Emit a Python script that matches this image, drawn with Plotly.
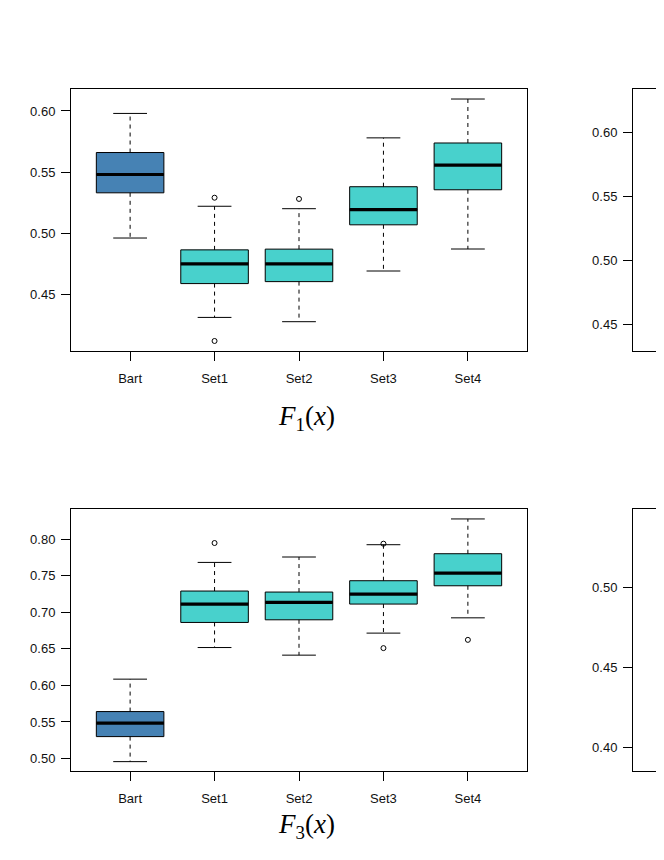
import plotly.graph_objects as go

categories = ["Bart", "Set1", "Set2", "Set3", "Set4"]

# F1(x)
f1_lower = [0.496, 0.431, 0.4275, 0.469, 0.487]
f1_q1 = [0.533, 0.4587, 0.4603, 0.5068, 0.5355]
f1_median = [0.548, 0.4748, 0.4748, 0.5193, 0.5557]
f1_q3 = [0.566, 0.4863, 0.4869, 0.538, 0.5738]
f1_upper = [0.598, 0.522, 0.520, 0.578, 0.6098]
f1_out_cat = ["Set1", "Set1", "Set2"]
f1_out_val = [0.529, 0.4117, 0.528]

# F3(x)
f3_lower = [0.4958, 0.6517, 0.6413, 0.6714, 0.6923]
f3_q1 = [0.530, 0.686, 0.6896, 0.7111, 0.7361]
f3_median = [0.5483, 0.7111, 0.7133, 0.7248, 0.7535]
f3_q3 = [0.5642, 0.7289, 0.7275, 0.743, 0.7799]
f3_upper = [0.6085, 0.768, 0.7754, 0.7922, 0.8274]
f3_out_cat = ["Set1", "Set3", "Set3", "Set4"]
f3_out_val = [0.7945, 0.7936, 0.6509, 0.6622]

# F2(x), F4(x): only the Bart box is visible (panels are cut off)
f2_cat = ["Bart"]
f2_q1 = [0.534]
f2_median = [0.550]
f2_q3 = [0.568]
f4_cat = ["Bart"]
f4_q1 = [0.475]
f4_median = [0.494]
f4_q3 = [0.505]

colors = {"Bart": "#4682B4"}
other_color = "#48D1CC"

PAGE_W, PAGE_H = 664, 860
OFF = 8  # default body margin of the html page
W, H = PAGE_W - OFF, PAGE_H - 2 * OFF
BOXW = 0.8
CAPW = 0.4
XR = [0.3, 5.7]
LEFT_PX = (71, 527)
RIGHT_PX0 = 633
TOP_PX = (89, 351)
BOT_PX = (509, 771)
px_per_unit = (LEFT_PX[1] - LEFT_PX[0]) / (XR[1] - XR[0])

fig = go.Figure()


def pos(cat):
    return categories.index(cat) + 1


def add_panel(xa, ya, cats, q1, med, q3, lower=None, upper=None, out_cat=None, out_val=None,
              polygon=False):
    for i, c in enumerate(cats):
        x = pos(c)
        if polygon:
            fig.add_trace(go.Scatter(
                x=[x - BOXW / 2, x + BOXW / 2, x + BOXW / 2, x - BOXW / 2, x - BOXW / 2],
                y=[q1[i], q1[i], q3[i], q3[i], q1[i]],
                mode="lines", fill="toself", fillcolor=colors.get(c, other_color),
                line=dict(color="black", width=1),
                xaxis=xa, yaxis=ya, showlegend=False, hoverinfo="skip"))
        else:
            fig.add_trace(go.Box(
                x=[x], q1=[q1[i]], median=[med[i]], q3=[q3[i]],
                lowerfence=[q1[i]], upperfence=[q3[i]],
                width=BOXW, whiskerwidth=0, boxpoints=False,
                fillcolor=colors.get(c, other_color),
                line=dict(color="black", width=1),
                xaxis=xa, yaxis=ya, showlegend=False, hoverinfo="skip"))
    mx, my = [], []
    for i, c in enumerate(cats):
        x = pos(c)
        mx += [x - BOXW / 2, x + BOXW / 2, None]
        my += [med[i], med[i], None]
    fig.add_trace(go.Scatter(x=mx, y=my, mode="lines", line=dict(color="black", width=3.2),
                             xaxis=xa, yaxis=ya, showlegend=False, hoverinfo="skip"))
    if lower is not None:
        wx, wy, cx, cy = [], [], [], []
        for i, c in enumerate(cats):
            x = pos(c)
            wx += [x, x, None, x, x, None]
            wy += [q3[i], upper[i], None, q1[i], lower[i], None]
            cx += [x - CAPW / 2, x + CAPW / 2, None, x - CAPW / 2, x + CAPW / 2, None]
            cy += [upper[i], upper[i], None, lower[i], lower[i], None]
        fig.add_trace(go.Scatter(x=wx, y=wy, mode="lines",
                                 line=dict(color="black", width=1, dash="4px,4px"),
                                 xaxis=xa, yaxis=ya, showlegend=False, hoverinfo="skip"))
        fig.add_trace(go.Scatter(x=cx, y=cy, mode="lines", line=dict(color="black", width=1),
                                 xaxis=xa, yaxis=ya, showlegend=False, hoverinfo="skip"))
    if out_cat:
        fig.add_trace(go.Scatter(x=[pos(c) for c in out_cat], y=out_val, mode="markers",
                                 marker=dict(symbol="circle-open", size=5, color="black",
                                             line=dict(width=1, color="black")),
                                 xaxis=xa, yaxis=ya, showlegend=False, hoverinfo="skip"))


add_panel("x", "y", categories, f1_q1, f1_median, f1_q3, f1_lower, f1_upper, f1_out_cat, f1_out_val)
add_panel("x2", "y2", f2_cat, f2_q1, f2_median, f2_q3, polygon=True)
add_panel("x3", "y3", categories, f3_q1, f3_median, f3_q3, f3_lower, f3_upper, f3_out_cat, f3_out_val)
add_panel("x4", "y4", f4_cat, f4_q1, f4_median, f4_q3, polygon=True)

tickfont = dict(family="Liberation Sans, Arial, sans-serif", size=13, color="#111")


def xdom(a, b):
    return [(a - OFF) / W, min(1.0, (b - OFF) / W)]


def ydom(top, bot):
    return [1 - (bot - OFF) / H, 1 - (top - OFF) / H]


right_range = [XR[0], XR[0] + (PAGE_W - RIGHT_PX0) / px_per_unit]

common_x = dict(showgrid=False, zeroline=False, showline=True, linecolor="black", linewidth=1,
                mirror=True, ticks="outside", ticklen=9, tickcolor="black", tickwidth=1,
                tickmode="array", tickvals=[1, 2, 3, 4, 5], ticktext=categories,
                tickfont=tickfont, ticklabelstandoff=6)
common_y = dict(showgrid=False, zeroline=False, showline=True, linecolor="black", linewidth=1,
                ticks="outside", ticklen=9, tickcolor="black", tickwidth=1,
                tickformat=".2f", tickfont=tickfont, ticklabelstandoff=3)

fig.update_layout(
    width=W, height=H, margin=dict(l=0, r=0, t=0, b=0),
    paper_bgcolor="white", plot_bgcolor="white", showlegend=False,
    xaxis=dict(common_x, domain=xdom(*LEFT_PX), range=XR, anchor="y"),
    yaxis=dict(common_y, domain=ydom(*TOP_PX), range=[0.4035, 0.618], mirror=True,
               tickvals=[0.45, 0.50, 0.55, 0.60], anchor="x"),
    xaxis2=dict(common_x, domain=xdom(RIGHT_PX0, PAGE_W), range=right_range, anchor="y2"),
    yaxis2=dict(common_y, domain=ydom(*TOP_PX), range=[0.429, 0.634], mirror=False,
                tickvals=[0.45, 0.50, 0.55, 0.60], anchor="x2"),
    xaxis3=dict(common_x, domain=xdom(*LEFT_PX), range=XR, anchor="y3"),
    yaxis3=dict(common_y, domain=ydom(*BOT_PX), range=[0.483, 0.841], mirror=True,
                tickvals=[0.50, 0.55, 0.60, 0.65, 0.70, 0.75, 0.80], anchor="x3"),
    xaxis4=dict(common_x, domain=xdom(RIGHT_PX0, PAGE_W), range=right_range, anchor="y4"),
    yaxis4=dict(common_y, domain=ydom(*BOT_PX), range=[0.385, 0.549], mirror=False,
                tickvals=[0.40, 0.45, 0.50], anchor="x4"),
)

title_font = dict(family="Liberation Serif, DejaVu Serif, serif", size=27, color="black")
fig.add_annotation(text="<i>F</i><sub>1</sub>(<i>x</i>)", xref="paper", yref="paper",
                   x=(306 - OFF) / W, y=1 - (418 - OFF) / H, showarrow=False, font=title_font,
                   xanchor="center", yanchor="middle")
fig.add_annotation(text="<i>F</i><sub>3</sub>(<i>x</i>)", xref="paper", yref="paper",
                   x=(306 - OFF) / W, y=1 - (826 - OFF) / H, showarrow=False, font=title_font,
                   xanchor="center", yanchor="middle")

fig.write_html("out.html")
